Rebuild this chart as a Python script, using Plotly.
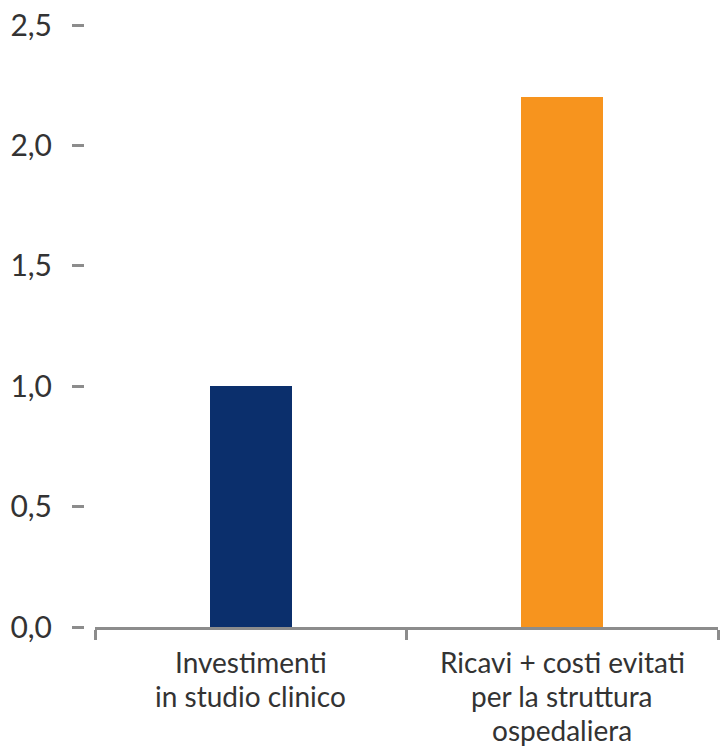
import plotly.graph_objects as go

# Data
categories = ["Investimenti in studio clinico", "Ricavi + costi evitati per la struttura ospedaliera"]
label_lines = [["Investimenti", "in studio clinico"],
               ["Ricavi + costi evitati", "per la struttura", "ospedaliera"]]
values = [1.0, 2.2]
colors = ["#0b2f6c", "#f7941e"]
y_ticks = [0.0, 0.5, 1.0, 1.5, 2.0, 2.5]
y_tick_text = ["0,0", "0,5", "1,0", "1,5", "2,0", "2,5"]

W, H = 720, 747
ML, MR, MT, MB = 84, 2, 25, 120
FONT = "Lato"
TEXT_COLOR = "#333333"
AXIS_COLOR = "#8c8c8c"

fig = go.Figure()
fig.add_trace(go.Bar(
    x=list(range(len(categories))),
    y=values,
    marker=dict(color=colors, line=dict(width=0)),
    width=0.263,
    hoverinfo="skip",
))

plot_w = W - ML - MR
x_dom_start = 11 / plot_w

# Category labels, one annotation per line
annotations = []
line_gap = 33.8
for i, lines in enumerate(label_lines):
    for j, line in enumerate(lines):
        annotations.append(dict(
            x=i, xref="x", y=0, yref="paper",
            text=line, showarrow=False,
            xanchor="center", yanchor="top",
            borderpad=0,
            yshift=-17 - j * line_gap,
            font=dict(family=FONT, size=28, color=TEXT_COLOR),
        ))

fig.update_layout(
    width=W, height=H,
    margin=dict(l=ML, r=MR, t=MT, b=MB, pad=0),
    paper_bgcolor="white", plot_bgcolor="white",
    showlegend=False,
    bargap=0,
    xaxis=dict(
        domain=[x_dom_start, 1],
        range=[-0.5, 1.5],
        tickmode="array",
        tickvals=[-0.5, 0.5, 1.5],
        ticktext=["", "", ""],
        ticks="outside", ticklen=10, tickwidth=2.5, tickcolor=AXIS_COLOR,
        showline=True, linecolor=AXIS_COLOR, linewidth=3,
        showgrid=False, zeroline=False, fixedrange=True,
    ),
    yaxis=dict(
        anchor="free", position=0,
        range=[0, 2.5],
        tickmode="array", tickvals=y_ticks, ticktext=y_tick_text,
        ticks="outside", ticklen=12, tickwidth=2.5, tickcolor=AXIS_COLOR,
        ticklabelstandoff=14,
        tickfont=dict(family=FONT, size=30, color=TEXT_COLOR),
        showline=False, showgrid=False, zeroline=False, fixedrange=True,
    ),
    annotations=annotations,
)

fig.write_html("out.html", config={"displayModeBar": False})
